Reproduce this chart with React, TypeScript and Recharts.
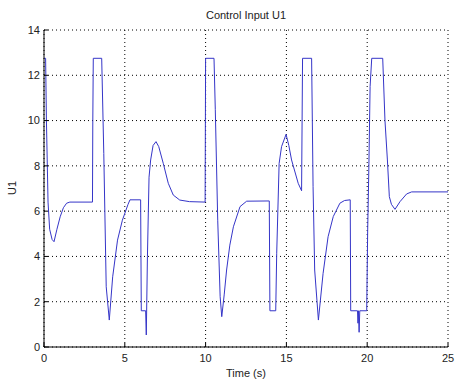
import React from 'react';
import { LineChart, Line, XAxis, YAxis, CartesianGrid } from 'recharts';

const timeSeconds = [
  0, 0.1, 0.15, 0.25, 0.35, 0.5, 0.62, 0.8, 1.0, 1.2, 1.4, 1.6, 3.0, 3.02, 3.05,
  3.57, 3.7, 3.85, 4.04, 4.25, 4.55, 4.85, 5.2, 5.32, 5.98, 6.02, 6.29, 6.33,
  6.4, 6.5, 6.6, 6.75, 6.93, 7.1, 7.38, 7.69, 8.0, 8.4, 9.0, 9.97, 10.0,
  10.52, 10.6, 10.75, 10.9, 11.0, 11.15, 11.3, 11.5, 11.72, 12.13, 12.54,
  13.94, 13.98, 14.34, 14.4, 14.55, 14.7, 14.98, 15.15, 15.32, 15.73, 15.94,
  16.0, 16.56, 16.65, 16.75, 16.98, 17.27, 17.58, 17.9, 18.31, 18.6, 18.95,
  18.98, 19.4, 19.43, 19.46, 19.5, 19.54, 19.97, 20.03, 20.1, 20.18, 20.28,
  20.96, 21.1, 21.25, 21.37, 21.5, 21.72, 22.03, 22.44, 22.75, 25,
];

const u1Values = [
  12.75, 12.75, 10.0, 6.4, 5.2, 4.75, 4.65, 5.2, 5.75, 6.15, 6.35, 6.4, 6.4, 10.0, 12.75,
  12.75, 8.55, 2.66, 1.19, 3.1, 4.72, 5.6, 6.3, 6.5, 6.5, 1.6, 1.6, 0.53,
  4.0, 7.5, 8.26, 8.9, 9.07, 8.85, 8.11, 7.23, 6.71, 6.49, 6.42, 6.4, 12.75,
  12.75, 10.5, 5.6, 2.22, 1.34, 2.3, 3.4, 4.5, 5.31, 6.2, 6.44,
  6.45, 1.6, 1.6, 4.14, 8.11, 8.85, 9.39, 8.9, 8.26, 7.23, 6.9,
  12.75, 12.75, 7.08, 3.4, 1.19, 3.25, 4.87, 5.76, 6.35, 6.47, 6.5,
  1.6, 1.6, 1.05, 1.6, 0.65, 1.6, 1.6, 5.17, 7.82, 11.5, 12.75,
  12.75, 10.0, 8.26, 6.64, 6.3, 6.08, 6.42, 6.76, 6.85, 6.85,
];

const xTicks = [0, 5, 10, 15, 20, 25];
const yTicks = [0, 2, 4, 6, 8, 10, 12, 14];

const chartTitle = 'Control Input U1';
const xLabel = 'Time (s)';
const yLabel = 'U1';

const data = timeSeconds.map((t, i) => ({ t, u1: u1Values[i] }));

const font = 'Arial, "Liberation Sans", Helvetica, sans-serif';
const tickStyle = { fontSize: 11, fill: '#222', fontFamily: font };

export default function App() {
  return (
    <div
      style={{
        position: 'absolute',
        left: 0,
        top: 0,
        width: 456,
        height: 385,
        background: '#fff',
        fontFamily: font,
      }}
    >
      <LineChart
        width={456}
        height={385}
        data={data}
        margin={{ top: 30, right: 8, bottom: 0, left: 0 }}
      >
        <CartesianGrid stroke="#000" strokeDasharray="1 3" strokeWidth={1} />
        <XAxis
          dataKey="t"
          type="number"
          domain={[0, 25]}
          ticks={xTicks}
          height={38}
          axisLine={{ stroke: '#000' }}
          tickLine={{ stroke: '#000' }}
          tickSize={-4}
          tickMargin={11}
          tick={tickStyle}
          interval={0}
        />
        <XAxis
          xAxisId="top"
          orientation="top"
          type="number"
          domain={[0, 25]}
          ticks={xTicks}
          height={0}
          axisLine={{ stroke: '#000' }}
          tickLine={{ stroke: '#000' }}
          tickSize={-4}
          tickFormatter={() => ''}
        />
        <YAxis
          type="number"
          domain={[0, 14]}
          ticks={yTicks}
          width={44}
          axisLine={{ stroke: '#000' }}
          tickLine={{ stroke: '#000' }}
          tickSize={-4}
          tickMargin={8}
          tick={tickStyle}
          interval={0}
        />
        <YAxis
          yAxisId="right"
          orientation="right"
          type="number"
          domain={[0, 14]}
          ticks={yTicks}
          width={0}
          axisLine={{ stroke: '#000' }}
          tickLine={{ stroke: '#000' }}
          tickSize={-4}
          tickFormatter={() => ''}
        />
        <Line
          type="linear"
          dataKey="u1"
          stroke="#3535c8"
          strokeWidth={1}
          dot={false}
          isAnimationActive={false}
        />
      </LineChart>
      <div
        style={{
          position: 'absolute',
          left: 44,
          width: 404,
          top: 8,
          textAlign: 'center',
          fontSize: 11,
          color: '#222',
          lineHeight: '14px',
        }}
      >
        {chartTitle}
      </div>
      <div
        style={{
          position: 'absolute',
          left: 44,
          width: 404,
          top: 366,
          textAlign: 'center',
          fontSize: 11,
          color: '#222',
          lineHeight: '14px',
        }}
      >
        {xLabel}
      </div>
      <div
        style={{
          position: 'absolute',
          left: 12,
          top: 188,
          transform: 'translate(-50%, -50%) rotate(-90deg)',
          fontSize: 11,
          color: '#222',
          lineHeight: '14px',
          whiteSpace: 'nowrap',
        }}
      >
        {yLabel}
      </div>
    </div>
  );
}
